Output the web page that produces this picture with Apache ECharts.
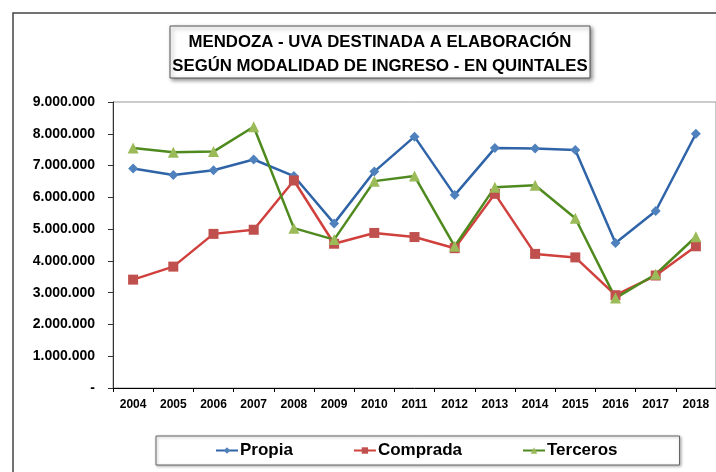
<!DOCTYPE html>
<html>
<head>
<meta charset="utf-8">
<script src="https://cdn.jsdelivr.net/npm/echarts@6/dist/echarts.min.js"></script>
<style>
  html, body { margin: 0; padding: 0; background: #fff; }
  #main { width: 716px; height: 472px; }
</style>
</head>
<body>
<div id="main"></div>
<script>
const years = ['2004', '2005', '2006', '2007', '2008', '2009', '2010', '2011', '2012', '2013', '2014', '2015', '2016', '2017', '2018']
// valores en quintales
const propia = [6910000, 6700000, 6850000, 7190000, 6670000, 5180000, 6810000, 7910000, 6070000, 7550000, 7540000, 7490000, 4560000, 5570000, 8000000]
const comprada = [3410000, 3820000, 4850000, 4980000, 6530000, 4540000, 4880000, 4750000, 4400000, 6110000, 4220000, 4110000, 2920000, 3540000, 4460000]
const terceros = [7550000, 7420000, 7440000, 8220000, 5030000, 4670000, 6510000, 6670000, 4460000, 6320000, 6380000, 5340000, 2830000, 3580000, 4760000]
const yTicks = [0, 1000000, 2000000, 3000000, 4000000, 5000000, 6000000, 7000000, 8000000, 9000000]

const font = 'Liberation Sans, Arial, sans-serif'
const chart = echarts.init(document.getElementById('main'))

// formato 9.000.000, el cero como "-"
const fmt = v => v === 0 ? '-' : String(v).replace(/\B(?=(\d{3})+(?!\d))/g, '.')

const serie = (name, data, lineColor, markColor, symbol, size) => ({
  name: name,
  type: 'line',
  data: data,
  symbol: symbol,
  symbolSize: size,
  lineStyle: { color: lineColor, width: 2.5 },
  itemStyle: { color: markColor },
  color: lineColor,
  emphasis: { disabled: true },
  z: 3
})

chart.setOption({
  animation: false,
  textStyle: { fontFamily: font },
  graphic: [
    {
      type: 'rect',
      shape: { x: 13, y: 13, width: 800, height: 600 },
      style: { fill: 'none', stroke: '#444', lineWidth: 1.5 },
      silent: true
    },
    {
      type: 'rect',
      shape: { x: 170, y: 26, width: 420, height: 52 },
      style: {
        fill: '#fff', stroke: '#555', lineWidth: 1,
        shadowBlur: 4, shadowOffsetX: 2, shadowOffsetY: 2, shadowColor: 'rgba(0,0,0,0.45)'
      },
      silent: true
    },
    {
      type: 'text',
      x: 380, y: 30,
      style: {
        text: 'MENDOZA - UVA DESTINADA A ELABORACIÓN\nSEGÚN MODALIDAD DE INGRESO - EN QUINTALES',
        fontFamily: font, fontSize: 16.8, fontWeight: 'bold', lineHeight: 24,
        fill: '#000', align: 'center'
      },
      silent: true
    }
  ],
  legend: {
    data: ['Propia', 'Comprada', 'Terceros'],
    left: 156,
    top: 436,
    padding: [6, 62, 6, 59],
    itemGap: 60,
    itemWidth: 22,
    itemHeight: 8,
    borderColor: '#666',
    borderWidth: 1,
    backgroundColor: '#fff',
    shadowBlur: 3,
    shadowOffsetX: 1,
    shadowOffsetY: 1,
    shadowColor: 'rgba(0,0,0,0.3)',
    textStyle: { fontFamily: font, fontSize: 17, fontWeight: 'bold', color: '#000', padding: [0, 0, 0, -3] }
  },
  grid: {
    left: 113, top: 102, width: 607, height: 286,
    show: true, borderColor: '#999', borderWidth: 1, backgroundColor: 'transparent'
  },
  xAxis: {
    type: 'category',
    data: years,
    boundaryGap: true,
    axisLine: { lineStyle: { color: '#000', width: 1 } },
    axisTick: { show: true, interval: 0, length: 4, lineStyle: { color: '#000' } },
    axisLabel: { interval: 0, color: '#000', fontSize: 12, fontWeight: 'bold', margin: 11 },
    splitLine: { show: false }
  },
  yAxis: {
    type: 'value',
    min: yTicks[0],
    max: yTicks[yTicks.length - 1],
    interval: 1000000,
    axisLine: { show: true, lineStyle: { color: '#333', width: 1 } },
    axisTick: { show: true, length: 5, lineStyle: { color: '#333' } },
    axisLabel: { color: '#000', fontSize: 14, fontWeight: 'bold', margin: 18, formatter: fmt },
    splitLine: { show: false }
  },
  series: [
    serie('Propia', propia, '#2F64A8', '#4F81BD', 'diamond', 10),
    serie('Comprada', comprada, '#D0413E', '#C0504D', 'rect', 10),
    serie('Terceros', terceros, '#4F8A1F', '#9BBB59', 'triangle', 11)
  ]
})
</script>
</body>
</html>
